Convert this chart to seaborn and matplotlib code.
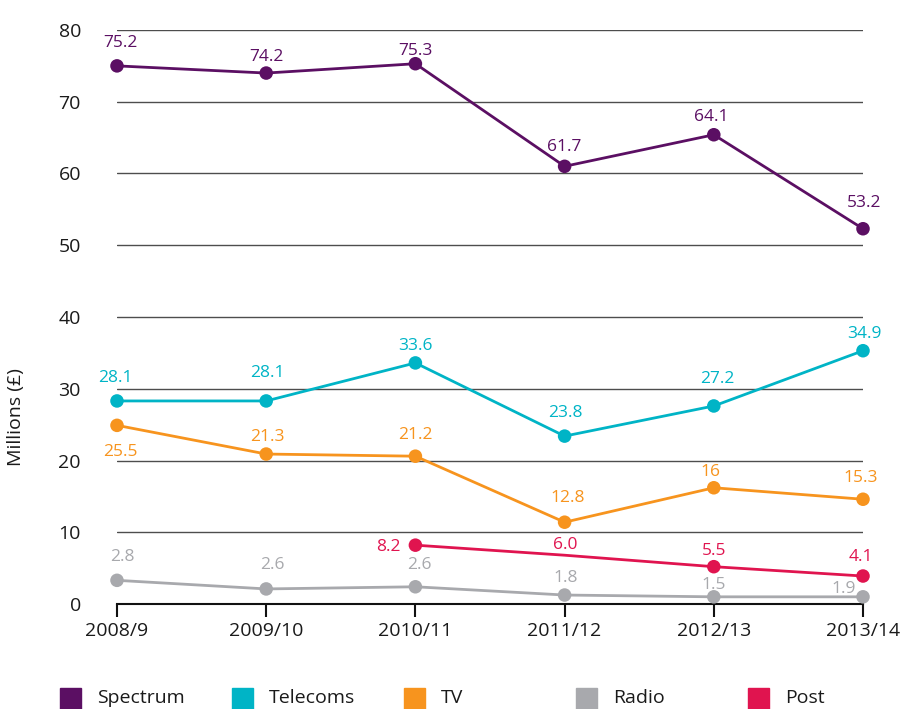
"""Ofcom-style revenue line chart: Spectrum, Telecoms, TV, Radio, Post (millions of pounds)."""

import matplotlib

matplotlib.use("Agg")

import matplotlib.pyplot as plt
import numpy as np
import pandas as pd
import seaborn as sns
from matplotlib.patches import Rectangle

YEARS = ["2008/9", "2009/10", "2010/11", "2011/12", "2012/13", "2013/14"]
SERIES = ["Spectrum", "Telecoms", "TV", "Radio", "Post"]

# plotted positions
SPECTRUM = [75.0, 74.0, 75.3, 61.0, 65.4, 52.3]
TELECOMS = [28.3, 28.3, 33.6, 23.4, 27.6, 35.3]
TV = [24.9, 20.9, 20.6, 11.4, 16.2, 14.6]
RADIO = [3.3, 2.1, 2.4, 1.25, 1.0, 1.0]
POST = [np.nan, np.nan, 8.2, 6.8, 5.2, 3.9]

# printed data labels (they do not always agree with the plotted points)
SPECTRUM_LABELS = ["75.2", "74.2", "75.3", "61.7", "64.1", "53.2"]
TELECOMS_LABELS = ["28.1", "28.1", "33.6", "23.8", "27.2", "34.9"]
TV_LABELS = ["25.5", "21.3", "21.2", "12.8", "16", "15.3"]
RADIO_LABELS = ["2.8", "2.6", "2.6", "1.8", "1.5", "1.9"]
POST_LABELS = ["", "", "8.2", "6.0", "5.5", "4.1"]

# Post has no marker at 2011/12
POST_MARKERS = [False, False, True, False, True, True]

COLORS = {
    "Spectrum": "#5b0f63",
    "Telecoms": "#00b4c6",
    "TV": "#f7941e",
    "Radio": "#a8a9ad",
    "Post": "#e0144f",
}

# label offsets in pixels (dx, dy)
OFFSETS = {
    "Spectrum": [(3, 23), (0, 16), (0, 13), (0, 19), (-3, 18), (1, 26)],
    "Telecoms": [(-2, 23), (1, 28), (0, 17), (1, 23), (4, 27), (1, 17)],
    "TV": [(3, -27), (1, 17), (0, 21), (3, 24), (-3, 16), (-2, 21)],
    "Radio": [(5, 23), (6, 24), (4, 22), (1, 17), (0, 12), (-19, 8)],
    "Post": [(0, 0), (0, 0), (-27, -2), (1, 10), (0, 16), (-2, 19)],
}

values = {"Spectrum": SPECTRUM, "Telecoms": TELECOMS, "TV": TV, "Radio": RADIO, "Post": POST}
labels = {
    "Spectrum": SPECTRUM_LABELS,
    "Telecoms": TELECOMS_LABELS,
    "TV": TV_LABELS,
    "Radio": RADIO_LABELS,
    "Post": POST_LABELS,
}

rows = []
for name in SERIES:
    for i, year in enumerate(YEARS):
        marked = POST_MARKERS[i] if name == "Post" else True
        rows.append(
            {"series": name, "idx": i, "year": year, "value": values[name][i],
             "label": labels[name][i], "marked": marked}
        )
df = pd.DataFrame(rows).dropna(subset=["value"])

sns.set_theme(style="white")
plt.rcParams["font.family"] = ["Open Sans", "DejaVu Sans"]

fig = plt.figure(figsize=(9.01, 7.09), dpi=100)
ax = fig.add_axes([117 / 901, 1 - 604 / 709, 746 / 901, 574 / 709])

sns.lineplot(data=df, x="idx", y="value", hue="series", hue_order=SERIES, palette=COLORS,
             linewidth=2, legend=False, ax=ax, clip_on=False, zorder=3)
sns.scatterplot(data=df[df["marked"]], x="idx", y="value", hue="series", hue_order=SERIES,
                palette=COLORS, s=95, linewidth=0, legend=False, ax=ax, clip_on=False, zorder=4)

for _, r in df.iterrows():
    if not r["label"]:
        continue
    dx, dy = OFFSETS[r["series"]][r["idx"]]
    ax.annotate(r["label"], (r["idx"], r["value"]), xytext=(dx, dy), textcoords="offset pixels",
                ha="center", va="center", color=COLORS[r["series"]], fontsize=12.5)

ax.set_xlim(0, len(YEARS) - 1)
ax.set_ylim(0, 80)
ax.set_yticks(range(0, 81, 10))
ax.set_xticks(range(len(YEARS)))
ax.set_xticklabels(YEARS)
ax.yaxis.grid(True, color="#4d4d4d", linewidth=1)
ax.xaxis.grid(False)
for side in ["left", "right", "top"]:
    ax.spines[side].set_visible(False)
ax.spines["bottom"].set_color("#111111")
ax.spines["bottom"].set_linewidth(1.5)
ax.tick_params(axis="x", direction="out", length=9, width=1.5, color="#111111",
               labelsize=14, pad=4, bottom=True, labelcolor="#1a1a1a")
ax.tick_params(axis="y", length=0, labelsize=14, pad=26, labelcolor="#1a1a1a")
ax.set_xlabel("")
ax.set_ylabel("Millions (£)", fontsize=14, color="#1a1a1a")
ax.yaxis.set_label_coords(-0.123, 0.326)

# legend along the bottom: coloured squares with names
for i, name in enumerate(SERIES):
    x0 = 60 + i * 172
    fig.add_artist(Rectangle((x0 / 901, 1 - 709 / 709), 21 / 901, 21 / 709,
                             transform=fig.transFigure, color=COLORS[name]))
    fig.text((x0 + 37) / 901, 1 - 698 / 709, name, fontsize=14, va="center", ha="left",
             color="#1a1a1a")

fig.savefig("out.png", dpi=100)
